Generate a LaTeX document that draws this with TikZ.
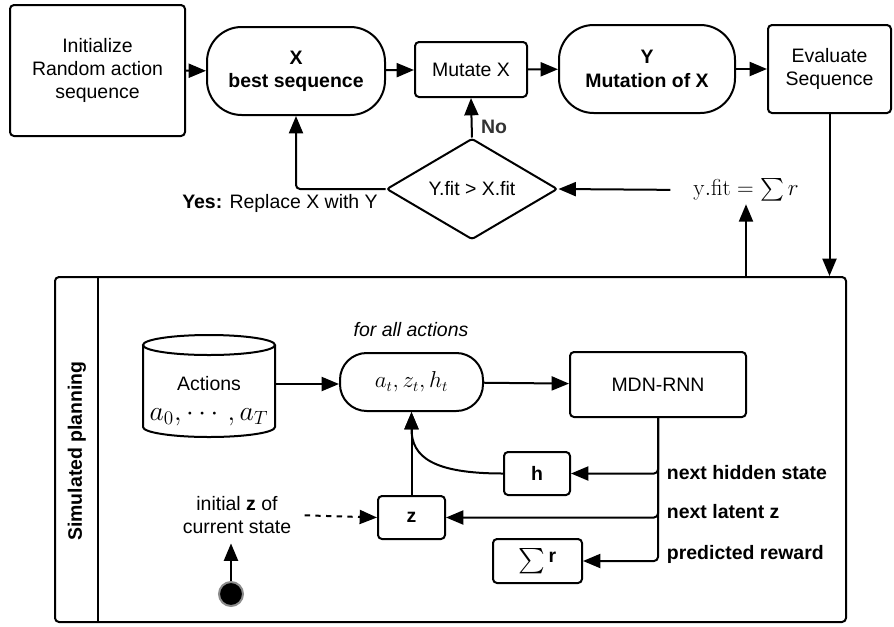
\documentclass[tikz,border=0pt]{standalone}
\usepackage{amsmath,amssymb}
\usepackage[no-math]{fontspec}
\setmainfont{Liberation Sans}
\usepackage{tikz}
\usetikzlibrary{shapes.geometric,arrows.meta,calc}

\tikzset{
  txt/.style={font=\fontsize{14.6}{17.5}\selectfont, align=center, inner sep=2pt},
  line/.style={line width=1.5pt},
  flow/.style={line, -{Triangle[length=13pt,width=10.5pt]}},
  box/.style={txt, line, draw, rounded corners=3pt},
  pill/.style={box, rounded corners=26pt},
  decide/.style={txt, line, draw, diamond, aspect=1.7, inner sep=0pt, rounded corners=2pt},
}

\begin{document}
\begin{tikzpicture}[x=0.75pt,y=0.75pt,yscale=-1,xscale=1]
\useasboundingbox (0,0) rectangle (894,626);

%Shape: Rectangle [init]
\node[box, minimum width=131.25pt, minimum height=98.25pt] (ini) at (97.5,70.5) {Initialize\\Random action\\sequence};
%Shape: Stadium [X]
\node[pill, minimum width=133.5pt, minimum height=66pt] (xb) at (296,71) {\textbf{X}\\\textbf{best sequence}};
%Shape: Rectangle [mutate]
\node[box, minimum width=84pt, minimum height=41.25pt] (mut) at (471,69.5) {Mutate X};
%Shape: Stadium [Y]
\node[pill, minimum width=132pt, minimum height=66pt] (yb) at (647,69) {\textbf{Y}\\\textbf{Mutation of X}};
%Shape: Rectangle [evaluate]
\node[box, minimum width=92.25pt, minimum height=66pt] (eval) at (829.5,69) {Evaluate\\Sequence};
%Shape: Diamond [compare]
\node[decide, minimum width=128.25pt, minimum height=75.75pt] (dec) at (472,189) {Y.fit > X.fit};
% Text Node
\node[txt, font=\fontsize{17}{20}\selectfont] (yfit) at (746,190) {$\mathrm{y.fit} = \sum r$};
% Text Node
\node[txt, text=black!80] (no) at (494,127) {\textbf{No}};
% Text Node
\node[txt] (yes) at (280,203) {\textbf{Yes:} Replace X with Y};

%Shape: Rectangle [planning lane]
\node[line, draw, rounded corners=3pt, minimum width=593.25pt, minimum height=258.75pt] (plan) at (450.5,449.5) {};
\draw[line] (98,277) -- (98,622);
% Text Node
\node[txt, rotate=90] (lane) at (77,451) {\textbf{Simulated planning}};

%Shape: Cylinder [actions]
\node[txt] (act) at (209,401) {Actions\\[5pt]{\fontsize{20}{22}\selectfont$a_0,\cdots,a_T$}};
\draw[line] ($(act)+(-66,-56)$) -- ++(0,82) arc[start angle=180,end angle=0,x radius=66,y radius=10] -- ++(0,-82);
\draw[line] ($(act)+(0,-56)$) ellipse[x radius=66,y radius=10];
\coordinate (actR) at ($(act)+(66,-17)$);
%Shape: Stadium [state]
\node[pill, rounded corners=20pt, minimum width=107.25pt, minimum height=43.5pt] (at) at (411.5,382) {\fontsize{16}{18}\selectfont$a_t, z_t, h_t$};
% Text Node
\node[txt] (forall) at (411,330) {\textit{for all actions}};
%Shape: Rectangle [rnn]
\node[box, minimum width=132pt, minimum height=48.75pt] (mdn) at (658,384.5) {MDN-RNN};
%Shape: Rectangle [h]
\node[box, minimum width=49.5pt, minimum height=32.25pt] (h) at (537,473.5) {\textbf{h}};
%Shape: Rectangle [z]
\node[box, minimum width=50.25pt, minimum height=32.25pt] (z) at (411.5,517.5) {\textbf{z}};
%Shape: Rectangle [reward sum]
\node[box, minimum width=66.75pt, minimum height=33pt] (sr) at (537.5,561) {{\fontsize{19}{20}\selectfont$\sum$}\,\raisebox{3pt}{\textbf{r}}};
% Text Node
\node[txt, anchor=west] (lblh) at (664,473) {\textbf{next hidden state}};
% Text Node
\node[txt, anchor=west] (lblz) at (664,512) {\textbf{next latent z}};
% Text Node
\node[txt, anchor=west] (lblr) at (664,554) {\textbf{predicted reward}};
% Text Node
\node[txt] (init) at (237,515) {initial \textbf{z} of\\current state};
%Shape: Circle [start]
\node[circle, fill=black, draw=black!45, line width=1.5pt, minimum size=18pt, inner sep=0pt] (start) at (231,594) {};

%Straight Lines [top row]
\draw[flow] (ini) -- (xb);
\draw[flow] (xb) -- (mut);
\draw[flow] (mut) -- (yb);
\draw[flow] (yb) -- (eval);
\draw[flow] (eval.south) -- (eval.south |- plan.north);
\draw[flow] (plan.north -| yfit) -- (yfit.south);
\draw[flow, shorten <=15pt] (yfit.west) -- (dec.east);
\draw[flow] (dec.north) -- (mut.south);
\draw[flow, rounded corners=3pt] (dec.west) -| (xb.south);

%Straight Lines [planning]
\draw[flow] (actR) -- (actR -| at.west);
\draw[flow] (at) -- (mdn);
\draw[flow, rounded corners=3pt] (mdn.south) |- (h.east);
\draw[flow, rounded corners=3pt] (mdn.south) |- (z.east);
\draw[flow, rounded corners=3pt] (mdn.south) |- (sr.east);
\draw[flow] (h.west) .. controls +(-70,0) and +(0,45) .. (at.south);
\draw[flow] (z.north) -- (at.south);
\draw[flow, dash pattern=on 4pt off 4pt, shorten <=8pt] (init.east) -- (z.west);
\draw[flow, shorten >=5pt] (start.north) -- (start.north |- init.south);
\end{tikzpicture}
\end{document}
